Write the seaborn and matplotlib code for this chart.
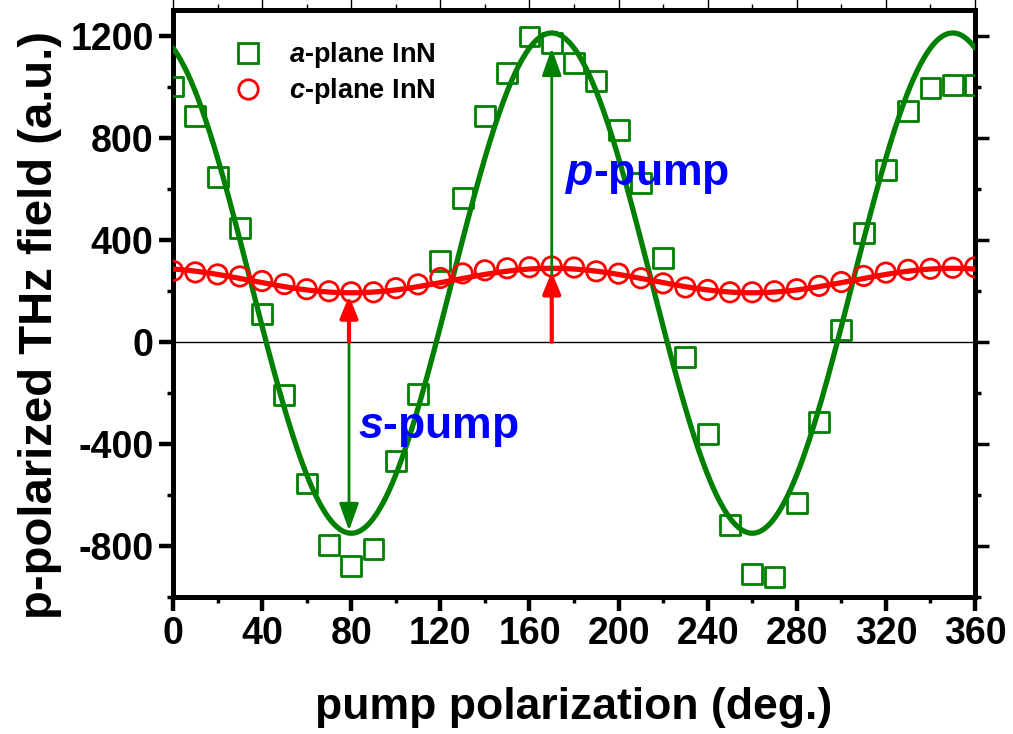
import numpy as np
import pandas as pd
import matplotlib
matplotlib.use("Agg")
import matplotlib.pyplot as plt
from matplotlib.lines import Line2D
from matplotlib.ticker import MultipleLocator
import seaborn as sns

# ---------------- data ----------------
angles = list(range(0, 361, 10))
a_plane = [1000, 885, 645, 447, 109, -210, -555, -796, -878, -812, -466, -206,
           318, 563, 885, 1052, 1196, 1169, 1091, 1021, 831, 621, 330, -58,
           -361, -718, -909, -920, -633, -315, 47, 427, 672, 905, 994, 1006, 1006]
c_plane = [278, 272, 264, 256, 238, 226, 206, 198, 194, 194, 210, 225,
           250, 268, 280, 288, 292, 295, 291, 276, 267, 249, 229, 213,
           203, 194, 194, 198, 206, 219, 234, 258, 271, 282, 286, 290, 292]

# fitted curve parameters: offset + amplitude*cos(2*(theta - peak))
a_fit_offset, a_fit_amp, a_fit_peak = 230, 980, 170
c_fit_offset, c_fit_amp, c_fit_peak = 240, 48, 170

xticks = [0, 40, 80, 120, 160, 200, 240, 280, 320, 360]
yticks = [-800, -400, 0, 400, 800, 1200]

# annotation arrows (angle, start, end)
s_arrow_green = (79, 0, -740)
s_arrow_red = (79, 0, 180)
p_arrow_green = (170, 0, 1150)
p_arrow_red = (170, 0, 275)

GREEN = "#008000"
RED = "#ff0000"
BLUE = "#0000ff"

# ---------------- style ----------------
sns.set_theme(style="ticks")
plt.rcParams["font.family"] = ["Liberation Sans", "DejaVu Sans"]
plt.rcParams["font.weight"] = "bold"
plt.rcParams["text.color"] = "black"
plt.rcParams["axes.labelcolor"] = "black"
plt.rcParams["xtick.color"] = "black"
plt.rcParams["ytick.color"] = "black"
plt.rcParams["mathtext.fontset"] = "custom"
plt.rcParams["mathtext.it"] = "Liberation Sans:italic:bold"
plt.rcParams["mathtext.rm"] = "Liberation Sans:bold"
plt.rcParams["mathtext.bf"] = "Liberation Sans:bold"

fig = plt.figure(figsize=(10.13, 7.34), dpi=100)
ax = fig.add_axes([0.1708, 0.1866, 0.7917, 0.7998])

theta = np.linspace(0, 360, 721)
df_fit = pd.DataFrame({
    "theta": theta,
    "a": a_fit_offset + a_fit_amp * np.cos(np.deg2rad(2 * (theta - a_fit_peak))),
    "c": c_fit_offset + c_fit_amp * np.cos(np.deg2rad(2 * (theta - c_fit_peak))),
})
df = pd.DataFrame({"angle": angles, "a": a_plane, "c": c_plane})

ax.axhline(0, color="black", lw=1.0, zorder=1)

sns.lineplot(data=df_fit, x="theta", y="a", ax=ax, color=GREEN, lw=3.8, zorder=3)
sns.scatterplot(data=df, x="angle", y="a", ax=ax, marker="s", s=205,
                facecolor="none", edgecolor=GREEN, linewidth=2.0, zorder=4)
sns.lineplot(data=df_fit, x="theta", y="c", ax=ax, color=RED, lw=3.8, zorder=5)
sns.scatterplot(data=df, x="angle", y="c", ax=ax, marker="o", s=195,
                facecolor="none", edgecolor=RED, linewidth=2.0, zorder=6)

def arrow(spec, color, lw, head_w, head_l, z):
    x, y0, y1 = spec
    ax.annotate("", xy=(x, y1), xytext=(x, y0),
                arrowprops=dict(arrowstyle=f"-|>,head_width={head_w},head_length={head_l}",
                                color=color, lw=lw, shrinkA=0, shrinkB=0),
                zorder=z)

arrow(s_arrow_green, GREEN, 2.0, 0.5, 1.4, 7)
arrow(p_arrow_green, GREEN, 2.0, 0.5, 1.4, 7)
arrow(s_arrow_red, RED, 3.0, 0.45, 1.1, 8)
arrow(p_arrow_red, RED, 3.0, 0.45, 1.1, 8)

ax.text(83, -377, r"$\mathit{s}$-pump", color=BLUE, fontsize=32,
        fontweight="bold", va="baseline", ha="left", zorder=9)
ax.text(176, 614, r"$\mathit{p}$-pump", color=BLUE, fontsize=32,
        fontweight="bold", va="baseline", ha="left", zorder=9)

ax.set_xlim(0, 360)
ax.set_ylim(-1000, 1300)
ax.set_xticks(xticks)
ax.set_yticks(yticks)
ax.xaxis.set_minor_locator(MultipleLocator(20))
ax.yaxis.set_minor_locator(MultipleLocator(200))
ax.set_xticklabels([str(v) for v in xticks], fontsize=27, fontweight="bold")
ax.set_yticklabels([str(v) for v in yticks], fontsize=27, fontweight="bold")
ax.set_xlabel("pump polarization (deg.)", fontsize=32, fontweight="bold", labelpad=25)
ax.set_ylabel("p-polarized THz field (a.u.)", fontsize=34, fontweight="bold",
              labelpad=6, y=0.463)

for sp in ax.spines.values():
    sp.set_visible(True)
    sp.set_linewidth(3.6)
    sp.set_color("black")
ax.tick_params(axis="both", which="major", direction="out", length=10, width=3.2,
               colors="black", pad=4)
ax.tick_params(axis="both", which="minor", direction="out", length=4, width=2.5,
               colors="black")
ax.tick_params(axis="both", which="both", top=True, right=True)
for t in ax.xaxis.get_major_ticks() + ax.xaxis.get_minor_ticks():
    t.tick2line.set_markeredgewidth(1.0)
    t.tick2line.set_color("#555555")
for t in ax.yaxis.get_major_ticks() + ax.yaxis.get_minor_ticks():
    t.tick2line.set_markeredgewidth(2.5)

handles = [
    Line2D([], [], marker="s", ls="none", markersize=14, markerfacecolor="none",
           markeredgecolor=GREEN, markeredgewidth=2.0),
    Line2D([], [], marker="o", ls="none", markersize=14, markerfacecolor="none",
           markeredgecolor=RED, markeredgewidth=2.0),
]
ax.legend(handles, [r"$\mathit{a}$-plane InN", r"$\mathit{c}$-plane InN"],
          loc="upper left", bbox_to_anchor=(0.033, 0.985), frameon=False,
          prop={"size": 19.5, "weight": "bold"}, handletextpad=0.5,
          labelspacing=0.22, borderpad=0.3)

fig.savefig("out.png", dpi=100)
